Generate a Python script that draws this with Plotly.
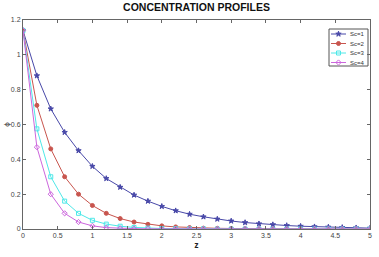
import plotly.graph_objects as go

z = [round(0.2 * i, 1) for i in range(26)]
sc1 = [1.14, 0.88, 0.69, 0.555, 0.45, 0.36, 0.29, 0.24, 0.195, 0.16, 0.13, 0.105, 0.085,
       0.07, 0.057, 0.046, 0.037, 0.03, 0.025, 0.02, 0.016, 0.013, 0.011, 0.009, 0.007, 0.005]
sc2 = [1.14, 0.71, 0.46, 0.30, 0.20, 0.135, 0.09, 0.06, 0.04, 0.027, 0.018, 0.012, 0.008,
       0.005, 0.004, 0.003, 0.002, 0.001, 0.001, 0.001, 0.0, 0.0, 0.0, 0.0, 0.0, 0.0]
sc3 = [1.14, 0.575, 0.30, 0.16, 0.09, 0.05, 0.028, 0.016, 0.009, 0.005, 0.003, 0.002, 0.001,
       0.001, 0.0, 0.0, 0.0, 0.0, 0.0, 0.0, 0.0, 0.0, 0.0, 0.0, 0.0, 0.0]
sc4 = [1.14, 0.47, 0.20, 0.09, 0.04, 0.018, 0.008, 0.004, 0.002, 0.001, 0.0, 0.0, 0.0,
       0.0, 0.0, 0.0, 0.0, 0.0, 0.0, 0.0, 0.0, 0.0, 0.0, 0.0, 0.0, 0.0]
names = ["Sc=1", "Sc=2", "Sc=3", "Sc=4"]
x_ticks = [0, 0.5, 1, 1.5, 2, 2.5, 3, 3.5, 4, 4.5, 5]
x_ticklabels = ["0", "0.5", "1", "1.5", "2", "2.5", "3", "3.5", "4", "4.5", "5"]
y_ticks = [0, 0.2, 0.4, 0.6, 0.8, 1, 1.2]
y_ticklabels = ["0", "0.2", "0.4", "0.6", "0.8", "1", "1.2"]

colors = ["#4848a8", "#c8554e", "#4ee8e8", "#cc66dd"]
symbols = ["star", "circle", "square-open", "diamond-open"]

W, H = 379, 257
ML, MR, MT, MB = 23, 9, 20, 28
PW, PH = W - ML - MR, H - MT - MB

fig = go.Figure()
for name, ys, c, s in zip(names, [sc1, sc2, sc3, sc4], colors, symbols):
    fig.add_trace(go.Scatter(
        x=z, y=ys, name=name, mode="lines+markers",
        line=dict(color=c, width=1),
        marker=dict(symbol=s, size=4, color=c, line=dict(color=c, width=1)),
        showlegend=False,
    ))

# custom compact legend (pixel coordinates inside the plot area via overlay axes)
lx0, lx1, ly0, ly1 = 306, 345, 9, 46
row_y = [14, 23.5, 33, 42.5]
fig.add_shape(type="rect", xref="x2", yref="y2", x0=lx0, x1=lx1, y0=ly0, y1=ly1,
              line=dict(color="#555555", width=1), fillcolor="white", layer="below")
for name, c, s, ry in zip(names, colors, symbols, row_y):
    fig.add_shape(type="line", xref="x2", yref="y2", x0=lx0 + 2, x1=lx0 + 17, y0=ry, y1=ry,
                  line=dict(color=c, width=1), layer="below")
    fig.add_trace(go.Scatter(x=[lx0 + 9.5], y=[ry], xaxis="x2", yaxis="y2", mode="markers",
                             marker=dict(symbol=s, size=4, color=c, line=dict(color=c, width=1)),
                             showlegend=False, hoverinfo="skip"))
    fig.add_annotation(xref="x2", yref="y2", x=lx0 + 19, y=ry, text=name, showarrow=False,
                       xanchor="left", yanchor="middle",
                       font=dict(size=6, color="#333333", family="Liberation Sans Narrow, Liberation Sans"))

axis_common = dict(
    showgrid=False, zeroline=False, showline=True, linecolor="#666666", linewidth=1,
    mirror="ticks", ticks="inside", ticklen=3, tickcolor="#666666", automargin=False,
    tickfont=dict(size=7, color="#444444", family="Liberation Sans Narrow, Liberation Sans"),
)
fig.update_layout(
    width=W, height=H,
    margin=dict(l=ML, r=MR, t=MT, b=MB),
    paper_bgcolor="white", plot_bgcolor="white",
    title=dict(text="<b>CONCENTRATION PROFILES</b>", x=0.5, xref="paper", xanchor="center",
               y=1, yref="container", yanchor="top", pad=dict(t=4),
               font=dict(size=10.5, color="#111111", family="Liberation Sans Narrow, Liberation Sans")),
    xaxis=dict(range=[0, 5], tickvals=x_ticks, ticktext=x_ticklabels,
               title=dict(text="<b>z</b>", font=dict(size=8, color="#222222"), standoff=2),
               **axis_common),
    yaxis=dict(range=[0, 1.2], tickvals=y_ticks, ticktext=y_ticklabels,
               title=dict(text="ϕ", font=dict(size=8, color="#222222"), standoff=0),
               **axis_common),
    xaxis2=dict(overlaying="x", range=[0, PW], visible=False, fixedrange=True),
    yaxis2=dict(overlaying="y", range=[PH, 0], visible=False, fixedrange=True),
    showlegend=False,
)
fig.write_html("out.html", config={"displayModeBar": False},
               post_script="document.body.style.margin='0';document.body.style.padding='0';document.body.style.overflow='hidden';")
